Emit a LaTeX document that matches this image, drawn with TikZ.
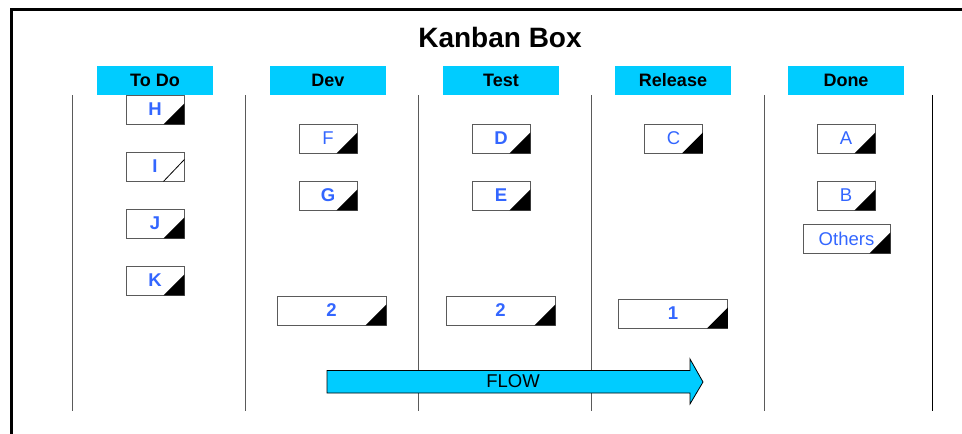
\documentclass[tikz,border=0pt]{standalone}
\usepackage{fontspec}
\setmainfont{Liberation Sans}
\definecolor{hdrcyan}{RGB}{0,204,255}
\definecolor{cardblue}{RGB}{51,102,255}
\definecolor{linegray}{RGB}{90,90,90}
\tikzset{
  hdr/.style={fill=hdrcyan, minimum width=116pt, minimum height=29pt, inner sep=0pt,
    font=\fontsize{18}{20}\selectfont\bfseries, text=black},
  card/.style={draw=linegray, line width=0.9pt, fill=white, minimum width=58pt, minimum height=29pt,
    inner sep=0pt, text=cardblue, font=\fontsize{18.5}{20}\selectfont},
  bcard/.style={card, font=\fontsize{18.5}{20}\selectfont\bfseries},
  wcard/.style={bcard, minimum width=109pt},
  colline/.style={draw=linegray, line width=1pt},
  corner/.style={fill=black},
}
\begin{document}
\begin{tikzpicture}[x=1pt,y=-1pt]
\useasboundingbox (0,0) rectangle (962,434);
% frame
\draw[line width=3pt] (11,440) -- (11,9) -- (970,9);
% title
\node[font=\fontsize{28}{30}\selectfont\bfseries] (title) at (500,37) {Kanban Box};
% headers
\node[hdr] (htodo) at (155,80.5) {To Do};
\node[hdr] (hdev) at (328,80.5) {Dev};
\node[hdr] (htest) at (501,80.5) {Test};
\node[hdr] (hrel) at (673,80.5) {Release};
\node[hdr] (hdone) at (846,80.5) {Done};
% column lines
\foreach \x/\n in {72/a,245/b,418/c,591/d,764/e}{
  \coordinate (t\n) at (\x,95); \coordinate (b\n) at (\x,411);
  \draw[colline] (t\n) -- (b\n);
}
\coordinate (tf) at (932,95); \coordinate (bf) at (932,411);
\draw[line width=1pt] (tf) -- (bf);
% flow arrow
\draw[fill=hdrcyan, line width=0.8pt] (327,370.5) -- (690,370.5) -- (690,359) -- (703,382) -- (690,404) -- (690,393) -- (327,393) -- cycle;
\node[font=\fontsize{18.5}{20}\selectfont] (flow) at (513,381.5) {FLOW};
% To Do cards
\node[bcard] (H) at (155,109.5) {H};
\node[bcard] (I) at (155,166.5) {I};
\node[bcard] (J) at (155,223.5) {J};
\node[bcard] (K) at (155,280.5) {K};
% Dev cards
\node[card] (F) at (328,138.5) {F};
\node[bcard] (G) at (328,195.5) {G};
\node[wcard] (dev2) at (331.5,310.5) {2};
% Test cards
\node[bcard] (D) at (501,138.5) {D};
\node[bcard] (E) at (501,195.5) {E};
\node[wcard] (test2) at (500.5,310.5) {2};
% Release cards
\node[card] (C) at (673.5,138.5) {C};
\node[wcard] (rel1) at (673,313.5) {1};
% Done cards
\node[card] (A) at (846,138.5) {A};
\node[card] (B) at (846,195.5) {B};
\node[card, minimum width=87pt] (others) at (846.5,238.5) {Others};
% corner marks
\foreach \c in {H,J,K,F,G,dev2,D,E,test2,C,rel1,A,B,others}{
  \fill[corner] (\c.south east) -- ([yshift=21pt]\c.south east) -- ([xshift=-21pt]\c.south east) -- cycle;
}
\draw[line width=0.8pt] ([yshift=22pt]I.south east) -- ([xshift=-21pt]I.south east);
\end{tikzpicture}
\end{document}
